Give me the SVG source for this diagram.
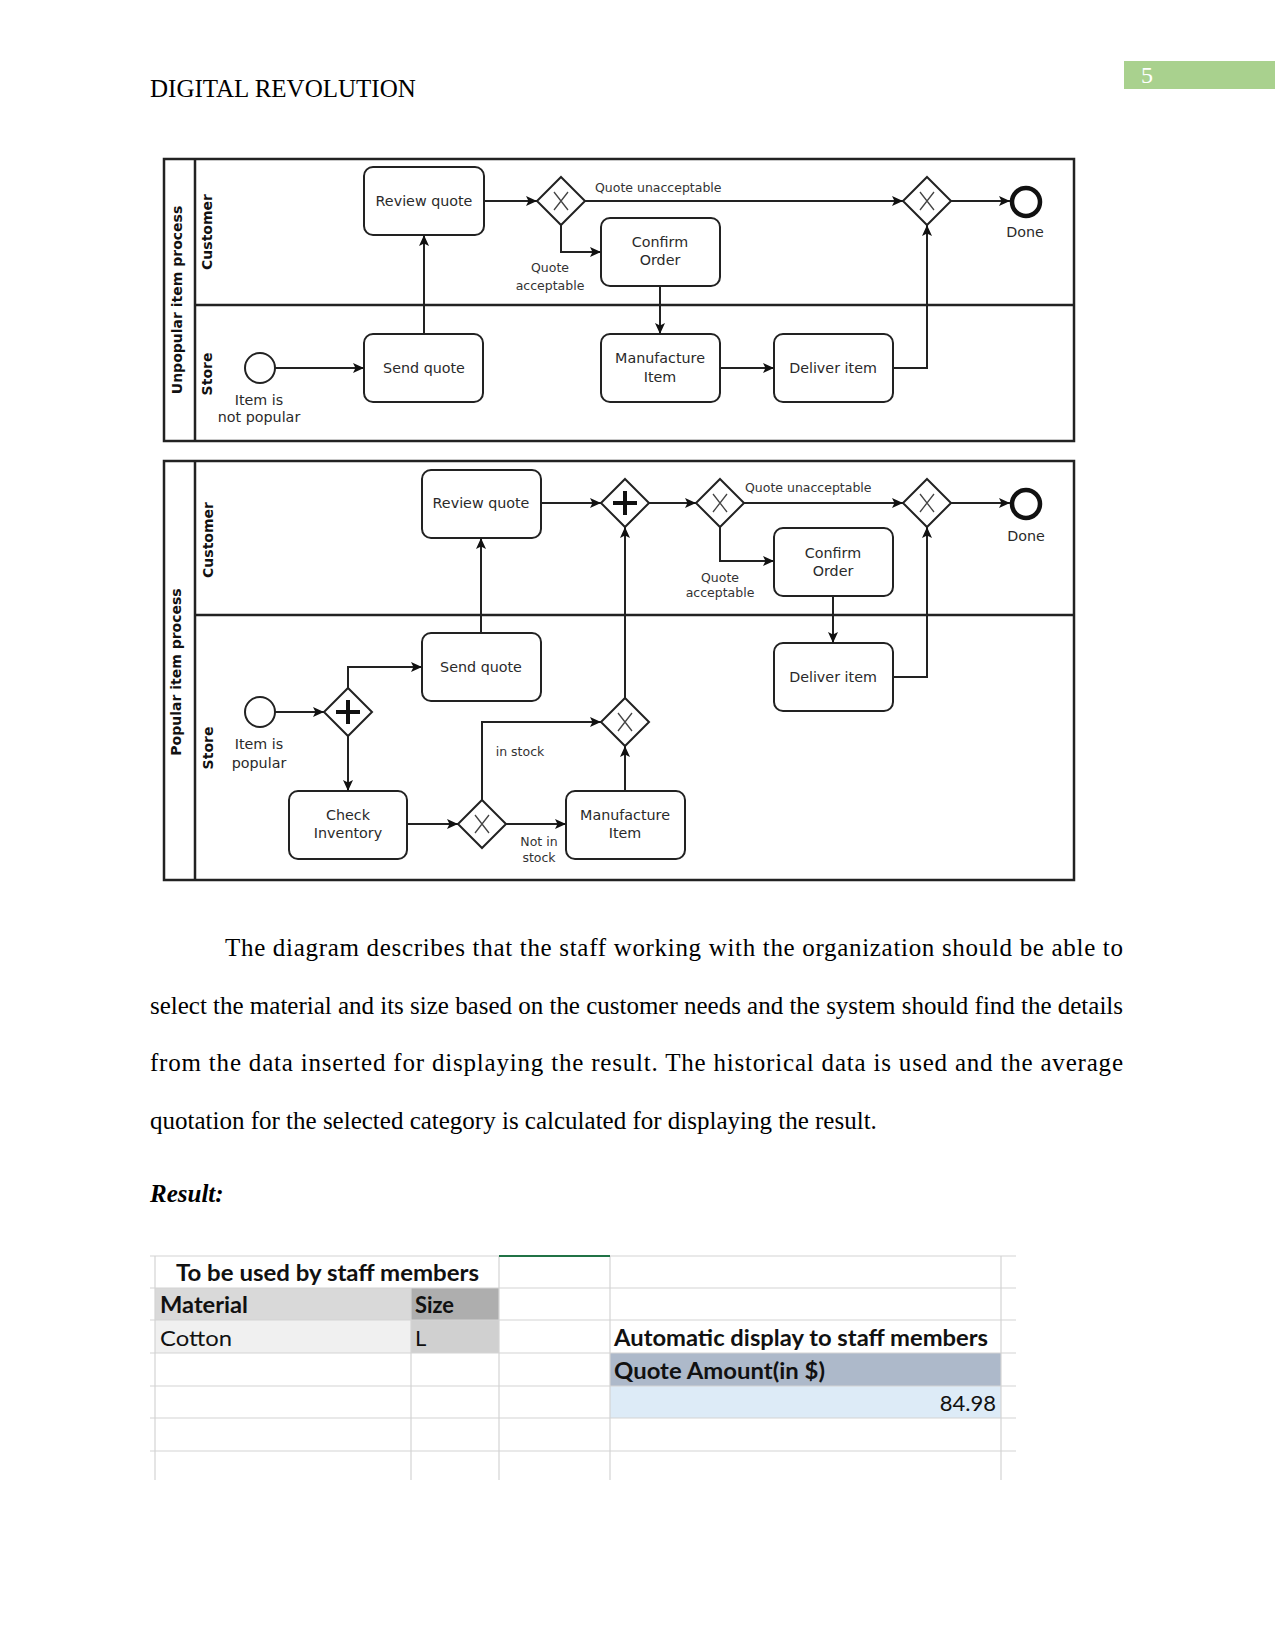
<svg xmlns="http://www.w3.org/2000/svg" xmlns:xlink="http://www.w3.org/1999/xlink" width="1275" height="1651" viewBox="0 0 1275 1651">
<style>
.pg{fill:#fff}
.frame{fill:none;stroke:#222;stroke-width:2.5}
.div{fill:none;stroke:#222;stroke-width:2.5}
.box{fill:#fff;stroke:#222;stroke-width:2}
.gw{fill:#fff;stroke:#222;stroke-width:2}
.gx{stroke:#444;stroke-width:1.3;fill:none}
.gp{stroke:#111;stroke-width:4;fill:none}
.start{fill:#fff;stroke:#222;stroke-width:2}
.end{fill:#fff;stroke:#111;stroke-width:4.5}
.flow{fill:none;stroke:#222;stroke-width:2;marker-end:url(#arr)}
.t{font-family:"DejaVu Sans",sans-serif;font-size:14.3px;fill:#2a2a2a;text-anchor:middle}
.l{font-family:"DejaVu Sans",sans-serif;font-size:12.5px;fill:#333}
.lc{text-anchor:middle}
.lt{font-family:"DejaVu Sans",sans-serif;font-size:14px;font-weight:bold;fill:#111;text-anchor:middle}
.serif{font-family:"Liberation Serif","Times New Roman",serif;font-size:25px;fill:#000}
.xl{font-family:Lato,"Liberation Sans",sans-serif;font-size:22px;fill:#111}
.xb{font-weight:bold}
.grid{stroke:#d4d4d4;stroke-width:1.2;fill:none}
</style>
<defs>
<marker id="arr" markerUnits="userSpaceOnUse" markerWidth="12" markerHeight="10" refX="11" refY="5" orient="auto">
<path d="M0,0 L11,5 L0,10 L2.5,5 Z" fill="#111"/>
</marker>
<g id="gwX"><polygon class="gw" points="0,-24 24,0 0,24 -24,0"/><path class="gx" d="M-7,-9 L7,9 M7,-9 L-7,9"/></g>
<g id="gwP"><polygon class="gw" points="0,-24 24,0 0,24 -24,0"/><path class="gp" d="M0,-12 V12 M-12,0 H12"/></g>
</defs>
<rect class="pg" x="0" y="0" width="1275" height="1651"/>

<!-- header -->
<g id="header">
<text class="serif" x="150" y="97">DIGITAL REVOLUTION</text>
<rect x="1124" y="61" width="151" height="28" fill="#a9d18e"/>
<text x="1141" y="83" font-family="Liberation Serif,serif" font-size="24" fill="#fff">5</text>
</g>

<!-- ========== Upper pool ========== -->
<g id="pool-unpopular">
<rect class="frame" x="164" y="159" width="910" height="282"/>
<line class="div" x1="195" y1="159" x2="195" y2="441"/>
<line class="div" x1="195" y1="305" x2="1074" y2="305"/>
<text class="lt" transform="translate(177,300) rotate(-90)" y="5">Unpopular item  process</text>
<text class="lt" transform="translate(207,232) rotate(-90)" y="5">Customer</text>
<text class="lt" transform="translate(207,374) rotate(-90)" y="5">Store</text>
</g>

<g id="u-review"><rect class="box" x="364" y="167" width="120" height="68" rx="9"/><text class="t" x="424" y="206">Review quote</text></g>
<g id="u-gw1"><use xlink:href="#gwX" x="561" y="201"/></g>
<g id="u-gw2"><use xlink:href="#gwX" x="927" y="201"/></g>
<g id="u-done"><circle class="end" cx="1026" cy="202" r="14"/><text class="t" x="1025" y="237">Done</text></g>
<g id="u-confirm"><rect class="box" x="601" y="218" width="119" height="68" rx="9"/><text class="t" x="660" y="247">Confirm</text><text class="t" x="660" y="265">Order</text></g>
<g id="u-start"><circle class="start" cx="260" cy="368" r="15"/><text class="t" x="259" y="405">Item is</text><text class="t" x="259" y="422">not popular</text></g>
<g id="u-send"><rect class="box" x="364" y="334" width="119" height="68" rx="9"/><text class="t" x="424" y="373">Send quote</text></g>
<g id="u-manu"><rect class="box" x="601" y="334" width="119" height="68" rx="9"/><text class="t" x="660" y="363">Manufacture</text><text class="t" x="660" y="382">Item</text></g>
<g id="u-deliver"><rect class="box" x="774" y="334" width="119" height="68" rx="9"/><text class="t" x="833" y="373">Deliver item</text></g>

<!-- ========== Lower pool ========== -->
<g id="pool-popular">
<rect class="frame" x="164" y="461" width="910" height="419"/>
<line class="div" x1="195" y1="461" x2="195" y2="880"/>
<line class="div" x1="195" y1="615" x2="1074" y2="615"/>
<text class="lt" transform="translate(176,672) rotate(-90)" y="5">Popular item process</text>
<text class="lt" transform="translate(208,540) rotate(-90)" y="5">Customer</text>
<text class="lt" transform="translate(208,748) rotate(-90)" y="5">Store</text>
</g>

<g id="p-review"><rect class="box" x="422" y="470" width="119" height="68" rx="9"/><text class="t" x="481" y="508">Review quote</text></g>
<g id="p-join"><use xlink:href="#gwP" x="625" y="503"/></g>
<g id="p-gw1"><use xlink:href="#gwX" x="720" y="503"/></g>
<g id="p-gw2"><use xlink:href="#gwX" x="927" y="503"/></g>
<g id="p-done"><circle class="end" cx="1026" cy="504" r="14"/><text class="t" x="1026" y="541">Done</text></g>
<g id="p-confirm"><rect class="box" x="774" y="528" width="119" height="68" rx="9"/><text class="t" x="833" y="558">Confirm</text><text class="t" x="833" y="576">Order</text></g>
<g id="p-deliver"><rect class="box" x="774" y="643" width="119" height="68" rx="9"/><text class="t" x="833" y="682">Deliver item</text></g>
<g id="p-send"><rect class="box" x="422" y="633" width="119" height="68" rx="9"/><text class="t" x="481" y="672">Send quote</text></g>
<g id="p-start"><circle class="start" cx="260" cy="712" r="15"/><text class="t" x="259" y="749">Item is</text><text class="t" x="259" y="768">popular</text></g>
<g id="p-split"><use xlink:href="#gwP" x="348" y="712"/></g>
<g id="p-check"><rect class="box" x="289" y="791" width="118" height="68" rx="9"/><text class="t" x="348" y="820">Check</text><text class="t" x="348" y="838">Inventory</text></g>
<g id="p-gwinv"><use xlink:href="#gwX" x="482" y="824"/></g>
<g id="p-manu"><rect class="box" x="566" y="791" width="119" height="68" rx="9"/><text class="t" x="625" y="820">Manufacture</text><text class="t" x="625" y="838">Item</text></g>
<g id="p-merge"><use xlink:href="#gwX" x="625" y="722"/></g>

<!-- connectors -->
<g id="connectors">
<path class="flow" d="M275,368 H364"/>
<path class="flow" d="M424,334 V235"/>
<path class="flow" d="M484,201 H537"/>
<path class="flow" d="M585,201 H903"/>
<path class="flow" d="M951,201 H1010"/>
<path class="flow" d="M561,225 V252 H601"/>
<path class="flow" d="M660,286 V334"/>
<path class="flow" d="M720,368 H774"/>
<path class="flow" d="M893,368 H927 V225"/>
<text class="l" x="595" y="192">Quote unacceptable</text>
<text class="l lc" x="550" y="272">Quote</text>
<text class="l lc" x="550" y="290">acceptable</text>

<path class="flow" d="M275,712 H324"/>
<path class="flow" d="M348,688 V667 H422"/>
<path class="flow" d="M348,736 V791"/>
<path class="flow" d="M407,824 H458"/>
<path class="flow" d="M506,824 H566"/>
<path class="flow" d="M482,800 V722 H601"/>
<path class="flow" d="M625,791 V746"/>
<path class="flow" d="M625,698 V527"/>
<path class="flow" d="M481,633 V538"/>
<path class="flow" d="M541,503 H601"/>
<path class="flow" d="M649,503 H696"/>
<path class="flow" d="M744,503 H903"/>
<path class="flow" d="M951,503 H1010"/>
<path class="flow" d="M720,527 V561 H774"/>
<path class="flow" d="M833,596 V643"/>
<path class="flow" d="M893,677 H927 V527"/>
<text class="l" x="745" y="492">Quote unacceptable</text>
<text class="l lc" x="720" y="582">Quote</text>
<text class="l lc" x="720" y="597">acceptable</text>
<text class="l lc" x="520" y="756">in stock</text>
<text class="l lc" x="539" y="846">Not in</text>
<text class="l lc" x="539" y="862">stock</text>
</g>

<!-- body text -->
<g id="body">
<text class="serif" x="225" y="956" textLength="898" lengthAdjust="spacing">The diagram describes that the staff working with the organization should be able to</text>
<text class="serif" x="150" y="1013.5" textLength="973" lengthAdjust="spacing">select the material and its size based on the customer needs and the system should find the details</text>
<text class="serif" x="150" y="1071" textLength="973" lengthAdjust="spacing">from the data inserted for displaying the result. The historical data is used and the average</text>
<text class="serif" x="150" y="1128.5">quotation for the selected category is calculated for displaying the result.</text>
<text class="serif" x="150" y="1202" font-weight="bold" font-style="italic">Result:</text>
</g>

<!-- spreadsheet -->
<g id="sheet">
<rect x="155" y="1288" width="256" height="32" fill="#d9d9d9"/>
<rect x="411" y="1288" width="88" height="32" fill="#aeaeae"/>
<rect x="155" y="1320" width="256" height="33" fill="#f0f0f0"/>
<rect x="411" y="1320" width="88" height="33" fill="#d0d0d0"/>
<rect x="610" y="1353" width="391" height="33" fill="#adb9ca"/>
<rect x="610" y="1386" width="391" height="32" fill="#ddebf7"/>
<path class="grid" d="M150,1256 H1016 M150,1288 H1016 M150,1320 H1016 M150,1353 H1016 M150,1386 H1016 M150,1418 H1016 M150,1451 H1016 M155,1256 V1480 M411,1288 V1480 M499,1256 V1480 M610,1256 V1480 M1001,1256 V1480"/>
<line x1="499" y1="1256" x2="610" y2="1256" stroke="#217346" stroke-width="2"/>
<text class="xl xb" x="176" y="1281" textLength="303" lengthAdjust="spacingAndGlyphs">To be used by staff members</text>
<text class="xl xb" x="160" y="1313" textLength="88" lengthAdjust="spacingAndGlyphs">Material</text>
<text class="xl xb" x="415" y="1313" textLength="39" lengthAdjust="spacingAndGlyphs">Size</text>
<text class="xl" x="160" y="1346" textLength="72" lengthAdjust="spacingAndGlyphs">Cotton</text>
<text class="xl" x="415" y="1346">L</text>
<text class="xl xb" x="614" y="1346" textLength="374" lengthAdjust="spacingAndGlyphs">Automatic display to staff members</text>
<text class="xl xb" x="614" y="1379" textLength="211" lengthAdjust="spacingAndGlyphs">Quote Amount(in $)</text>
<text class="xl" x="996" y="1411" text-anchor="end">84.98</text>
</g>
</svg>
